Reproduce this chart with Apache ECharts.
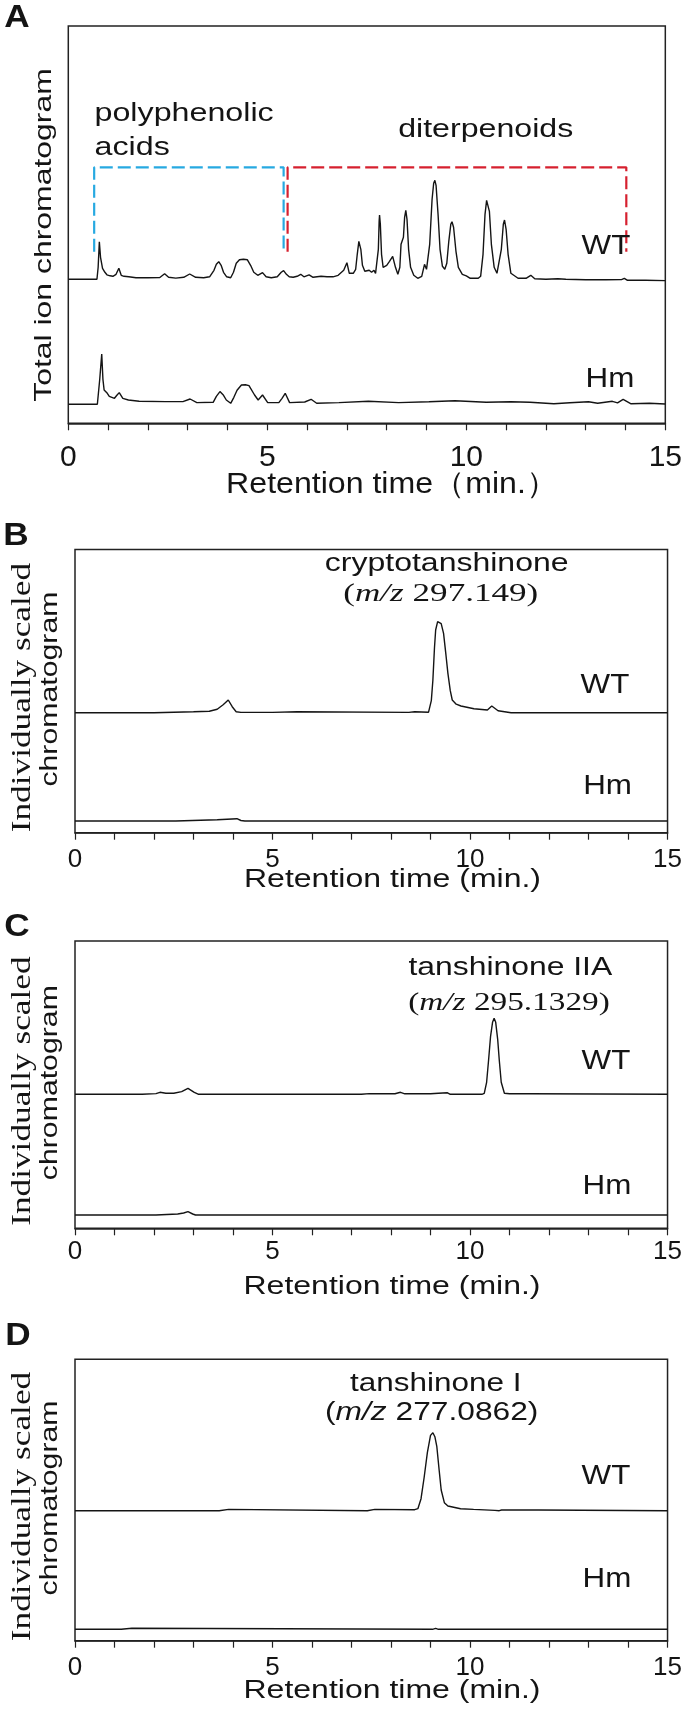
<!DOCTYPE html>
<html><head><meta charset="utf-8">
<script src="https://cdn.jsdelivr.net/npm/echarts@6/dist/echarts.min.js"></script>
<style>html,body{margin:0;padding:0;background:#fff}#c{width:685px;height:1726px}</style>
</head><body><div id="c"></div>
<script>
// ---------- DATA (time in min, intensity in arbitrary units above each trace's baseline) ----------
const xTickLabels = [0, 5, 10, 15];

const tracesA_WT = [[0,0],[0.72,0],[0.75,12],[0.78,37.6],[0.81,22],[0.86,11],[0.92,7],[0.97,4.5],[1.05,3.5],[1.12,3],[1.2,5],[1.27,11],[1.33,4],[1.4,3],[1.45,5],[1.52,2.5],[1.7,1.5],[2.0,1.5],[2.3,1.8],[2.42,5.5],[2.52,2],[2.7,1.2],[2.9,2],[3.05,5.3],[3.2,2],[3.4,1.5],[3.55,2.5],[3.66,9],[3.72,15],[3.78,17.6],[3.84,14],[3.9,7],[3.98,2.5],[4.08,1.5],[4.15,7],[4.22,16],[4.3,19.5],[4.4,20],[4.5,19.5],[4.58,14],[4.66,7],[4.76,4],[4.88,6.7],[4.97,2.5],[5.1,1.5],[5.25,2.5],[5.35,7],[5.41,8.7],[5.48,5],[5.55,2.5],[5.65,2],[5.75,3],[5.84,5],[5.92,2.5],[6.05,4.5],[6.15,2],[6.35,3],[6.5,2.5],[6.65,2.5],[6.78,4],[6.92,9],[7.0,16.6],[7.06,6],[7.16,6],[7.22,10],[7.26,25],[7.3,38],[7.32,39.3],[7.35,30],[7.39,14],[7.45,8],[7.5,7],[7.56,9],[7.62,7],[7.68,9],[7.72,6],[7.75,4],[7.79,30],[7.81,58],[7.82,64.3],[7.84,55],[7.87,25],[7.91,12],[8.0,14],[8.07,18],[8.15,23],[8.22,12],[8.28,5],[8.33,12],[8.36,35],[8.39,36],[8.42,42],[8.45,62],[8.48,69],[8.51,60],[8.55,30],[8.6,12],[8.68,4],[8.78,1],[8.88,3],[8.95,15],[9.0,10],[9.08,35],[9.14,80],[9.18,96],[9.21,99],[9.24,94],[9.29,65],[9.34,30],[9.4,13],[9.46,10],[9.51,16],[9.56,38],[9.61,55],[9.64,57.6],[9.68,52],[9.74,28],[9.8,12],[9.9,5],[10.0,3.5],[10.1,1],[10.3,1],[10.36,3],[10.42,25],[10.47,65],[10.51,79],[10.54,80],[10.58,68],[10.63,35],[10.7,12],[10.77,6],[10.82,8],[10.88,30],[10.93,55],[10.96,59.3],[11.0,50],[11.05,25],[11.12,6],[11.3,1],[11.5,1],[11.62,4],[11.72,0.5],[12.0,0],[12.3,0.5],[12.5,0],[13.0,-0.5],[13.5,-0.5],[13.9,-0.3],[13.97,1],[14.05,-1],[14.5,-1],[15,-1.3]];

const tracesA_Hm = [[0,0],[0.73,0],[0.79,25],[0.84,50.3],[0.87,25],[0.9,14.3],[0.98,11],[1.03,8],[1.16,6],[1.22,9],[1.28,11.7],[1.37,6],[1.51,4.3],[1.78,3],[2.44,2.7],[2.88,2.7],[3.06,5.3],[3.23,1.7],[3.64,2],[3.72,8],[3.81,12.7],[3.9,9],[3.97,4.3],[4.08,1],[4.16,7],[4.24,14],[4.35,19.3],[4.45,19.5],[4.54,18.7],[4.68,9.3],[4.77,4.3],[4.88,9.3],[5.01,1.7],[5.29,1.7],[5.37,6],[5.45,11],[5.56,1.7],[5.94,2.3],[6.1,5],[6.24,1],[6.8,1.7],[7.54,3],[8.3,1.7],[9.06,2.5],[9.71,3.5],[9.98,3],[10.5,2],[11.12,2.5],[11.6,2],[12.2,0.5],[12.6,1.5],[13.07,2.5],[13.3,1],[13.67,3],[13.8,1.5],[13.94,5],[14.14,0.5],[14.6,1],[15,0.3]];

const tracesB_WT = [[0,0],[2.0,0],[2.03,0.8],[3.0,1],[3.4,1.5],[3.6,3.5],[3.75,8],[3.88,12.7],[3.98,6],[4.08,1],[4.2,0.3],[5.0,0.3],[5.03,1],[5.62,1],[5.65,0.3],[8.45,0.3],[8.48,1],[8.6,1],[8.63,0.2],[8.95,0.5],[9.02,12],[9.06,32.7],[9.1,65],[9.13,82.7],[9.18,91],[9.22,92.7],[9.27,89],[9.33,79.3],[9.39,58],[9.44,39.3],[9.5,22],[9.55,12.7],[9.65,8.5],[9.77,6.7],[10.1,4],[10.44,2.7],[10.55,6.7],[10.71,2],[11.04,0],[15,0]];
const tracesB_Hm = [[0,0],[2.55,0],[2.58,1.3],[3.6,1.3],[3.65,2.3],[4.1,2.3],[4.2,0.5],[4.3,0],[15,0]];

const tracesC_WT = [[0,0],[1.7,0],[1.72,0.7],[2.05,0.7],[2.15,2],[2.3,1],[2.5,1],[2.7,2.7],[2.86,6],[3.02,2],[3.13,0],[7.25,0],[7.28,0.7],[7.45,0.7],[7.5,0],[8.1,0.5],[8.24,2],[8.35,0.5],[8.7,0.7],[9.0,0.5],[9.2,1],[9.43,1.5],[9.5,0],[10.3,0],[10.36,1],[10.42,12],[10.47,34.3],[10.52,58],[10.57,72],[10.61,76],[10.65,72],[10.7,55],[10.74,34.3],[10.79,12],[10.87,1],[11.0,0.5],[11.5,0.5],[11.55,0],[15,0]];
const tracesC_Hm = [[0,0],[0.65,0],[0.7,1.7],[0.78,0],[2.05,0],[2.1,1],[2.6,1],[2.75,2],[2.86,3.3],[2.98,1],[3.05,0],[15,0]];

const tracesD_WT = [[0,0],[3.65,0],[3.67,1.3],[3.89,1.3],[3.91,0],[7.4,0],[7.42,1.3],[7.59,1.3],[7.61,0],[8.6,1],[8.68,2],[8.76,12],[8.84,33.7],[8.92,58],[9.0,75.3],[9.06,78],[9.11,74],[9.16,64],[9.22,40],[9.27,20.7],[9.35,8],[9.44,4.7],[9.76,2],[10.09,1.3],[10.63,0.3],[10.74,0],[10.8,0.7],[11.73,0.7],[11.76,0],[15,0]];
const tracesD_Hm = [[0,0],[1.17,0],[1.2,1],[1.44,1],[1.47,0],[9.05,0],[9.13,1],[9.2,0],[15,0]];

// dashed bracket groups (time, intensity in panel A units)
const bracketPolyphenolic = [[0.65,171.6],[0.65,256],[5.41,256],[5.41,171.6]];
const bracketDiterpenoid = [[5.51,171.6],[5.51,256],[14.02,256],[14.02,171.6]];

// ---------- LAYOUT ----------
const grids = [
  {left:68.3, top:26, width:604, height:397.3},
  {left:75, top:549.5, width:603.3, height:283.2},
  {left:75, top:941, width:603.3, height:287.3},
  {left:75, top:1359.3, width:603.3, height:281.4}
];
const baseWT = [144, 120, 134, 130];
const baseHm = [19, 11.7, 13.3, 11.4];
const labelFont = [30, 26, 26, 26];
const labelMargin = [19, 14, 11, 14];
const WTs = [tracesA_WT, tracesB_WT, tracesC_WT, tracesD_WT];
const Hms = [tracesA_Hm, tracesB_Hm, tracesC_Hm, tracesD_Hm];

const SANS = "'Liberation Sans', Arial, sans-serif";
const SERIF = "'Liberation Serif', 'Times New Roman', serif";
const INK = '#141414';

const xAxes = grids.map((g, i) => ({
  gridIndex: i, type: 'value', min: 0, max: 15, interval: 1,
  axisLine: {show: true, lineStyle: {color: '#222', width: 1.5}},
  axisTick: {show: true, length: 7, inside: false, lineStyle: {color: '#222', width: 1.2}},
  axisLabel: {show: true, margin: labelMargin[i], fontSize: labelFont[i], fontFamily: SANS, color: INK,
    formatter: v => xTickLabels.indexOf(v) >= 0 ? String(v) : ''},
  splitLine: {show: false}
}));
const yAxes = grids.map((g, i) => ({gridIndex: i, type: 'value', min: 0, max: g.height, show: false}));

const series = [];
grids.forEach((g, i) => {
  series.push({type: 'line', xAxisIndex: i, yAxisIndex: i, symbol: 'none', silent: true,
    lineStyle: {color: INK, width: 1.4}, data: WTs[i].map(p => [p[0], baseWT[i] + p[1]])});
  series.push({type: 'line', xAxisIndex: i, yAxisIndex: i, symbol: 'none', silent: true,
    lineStyle: {color: INK, width: 1.4}, data: Hms[i].map(p => [p[0], baseHm[i] + p[1]])});
});
series.push({type: 'line', xAxisIndex: 0, yAxisIndex: 0, symbol: 'none', silent: true, z: 3,
  lineStyle: {color: '#27a9e1', width: 2.2, type: [13, 5]}, data: bracketPolyphenolic});
series.push({type: 'line', xAxisIndex: 0, yAxisIndex: 0, symbol: 'none', silent: true, z: 3,
  lineStyle: {color: '#d6202f', width: 2.2, type: [13, 5]}, data: bracketDiterpenoid});

function T(text, x, y, font, o) {
  o = o || {};
  const al = o.align || 'center';
  const st = {text: text, font: font, fill: INK, align: al, verticalAlign: 'middle', textAlign: al, textVerticalAlign: 'middle'};
  if (o.rich) st.rich = o.rich;
  return {type: 'text', x: x, y: y, rotation: o.rot || 0, scaleX: o.sx || 1, z: 100, silent: true, style: st};
}
const R90 = Math.PI / 2;
const mzRichSerif = {i: {fontStyle: 'italic', fontFamily: SERIF, fontSize: 26, fill: INK}};
const mzRichSans = {i: {fontStyle: 'italic', fontFamily: SANS, fontSize: 26, fill: INK}};

const texts = [
  // panel letters
  T('A', 17, 18.5, 'bold 32px ' + SANS, {sx: 1.1}),
  T('B', 16, 536, 'bold 32px ' + SANS, {sx: 1.1}),
  T('C', 17, 927.5, 'bold 32px ' + SANS, {sx: 1.1}),
  T('D', 18, 1336, 'bold 32px ' + SANS, {sx: 1.1}),
  // panel A
  T('Total ion chromatogram', 44.4, 235, '24px ' + SANS, {rot: R90, sx: 1.33}),
  T('polyphenolic', 94.5, 114.3, '26px ' + SANS, {align: 'left', sx: 1.24}),
  T('acids', 94.5, 147.7, '26px ' + SANS, {align: 'left', sx: 1.24}),
  T('diterpenoids', 485.7, 129.7, '25.5px ' + SANS, {sx: 1.26}),
  T('WT', 606, 246, '28px ' + SANS, {sx: 1.12}),
  T('Hm', 610, 379, '28px ' + SANS, {sx: 1.12}),
  T('Retention time\uFF08min.\uFF09', 392, 484.6, '30px ' + SANS, {sx: 1.07}),
  // panel B
  T('cryptotanshinone', 446.7, 564.6, '25px ' + SANS, {sx: 1.28}),
  T('({i|m/z} 297.149)', 440.8, 594.5, '26px ' + SERIF, {sx: 1.35, rich: mzRichSerif}),
  T('WT', 605, 685, '28px ' + SANS, {sx: 1.12}),
  T('Hm', 607.6, 786.7, '28px ' + SANS, {sx: 1.12}),
  T('Retention time (min.)', 392.5, 880.5, '25px ' + SANS, {sx: 1.28}),
  // panel C
  T('tanshinone IIA', 510.3, 967.9, '25.5px ' + SANS, {sx: 1.25}),
  T('({i|m/z} 295.1329)', 509, 1003, '26px ' + SERIF, {sx: 1.28, rich: mzRichSerif}),
  T('WT', 606, 1061, '28px ' + SANS, {sx: 1.12}),
  T('Hm', 607, 1186.7, '28px ' + SANS, {sx: 1.12}),
  T('Retention time (min.)', 392, 1287, '25px ' + SANS, {sx: 1.28}),
  // panel D
  T('tanshinone I', 435.8, 1384.3, '26px ' + SANS, {sx: 1.21}),
  T('({i|m/z} 277.0862)', 431.7, 1413, '26px ' + SANS, {sx: 1.22, rich: mzRichSans}),
  T('WT', 606, 1476, '28px ' + SANS, {sx: 1.12}),
  T('Hm', 607, 1579, '28px ' + SANS, {sx: 1.12}),
  T('Retention time (min.)', 392, 1691, '25px ' + SANS, {sx: 1.28})
];
// y titles of B, C, D
[1, 2, 3].forEach(i => {
  const c = grids[i].top + grids[i].height / 2;
  texts.push(T('Individually scaled', 22.3, c + 6.5, '28px ' + SERIF, {rot: R90, sx: 1.26}));
  texts.push(T('chromatogram', 50.5, c - 2, '23px ' + SANS, {rot: R90, sx: 1.315}));
});

const chart = echarts.init(document.getElementById('c'), null, {renderer: 'canvas'});
chart.setOption({
  animation: false,
  backgroundColor: '#ffffff',
  grid: grids.map(g => Object.assign({show: true, borderColor: '#222', borderWidth: 1.5, backgroundColor: 'transparent', containLabel: false}, g)),
  xAxis: xAxes,
  yAxis: yAxes,
  series: series,
  graphic: {elements: texts}
});
</script>
</body></html>
